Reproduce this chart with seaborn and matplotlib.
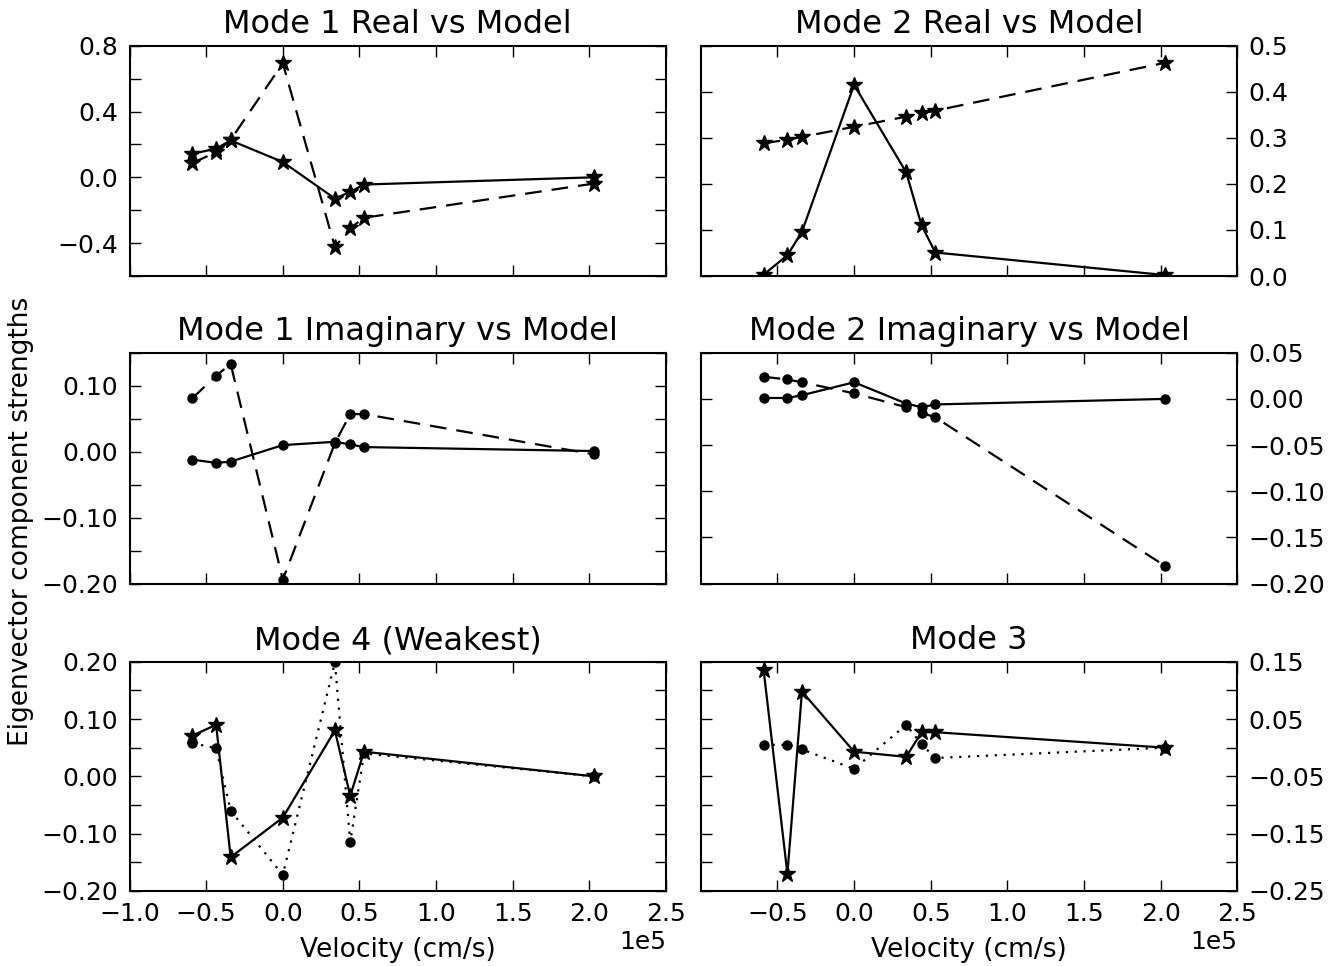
import matplotlib
matplotlib.use("Agg")
import numpy as np
import pandas as pd
import seaborn as sns
import matplotlib.pyplot as plt
from matplotlib.ticker import ScalarFormatter

# ---------------- data ----------------
velocity = [-59000, -43500, -34000, 0, 34000, 44000, 53000, 203000]

m1_real = [0.143, 0.174, 0.224, 0.093, -0.129, -0.089, -0.044, 0.0]
m1_real_model = [0.087, 0.152, 0.228, 0.693, -0.424, -0.309, -0.246, -0.038]

m2_real = [0.003, 0.045, 0.096, 0.415, 0.225, 0.110, 0.051, 0.002]
m2_real_model = [0.288, 0.296, 0.302, 0.324, 0.346, 0.353, 0.359, 0.463]

m1_imag = [-0.012, -0.017, -0.015, 0.010, 0.015, 0.011, 0.007, 0.001]
m1_imag_model = [0.081, 0.115, 0.133, -0.194, 0.013, 0.057, 0.057, -0.004]

m2_imag = [0.001, 0.001, 0.004, 0.018, -0.005, -0.009, -0.006, 0.0]
m2_imag_model = [0.024, 0.021, 0.018, 0.006, -0.009, -0.015, -0.020, -0.181]

m4_a = [0.071, 0.090, -0.141, -0.072, 0.080, -0.034, 0.043, 0.0]
m4_b = [0.058, 0.049, -0.060, -0.172, 0.199, -0.115, 0.040, 0.0]

m3_a = [0.135, -0.220, 0.098, -0.007, -0.016, 0.027, 0.027, 0.0]
m3_b = [0.005, 0.005, -0.003, -0.037, 0.040, 0.006, -0.018, 0.0]

titles = ["Mode 1 Real vs Model", "Mode 2 Real vs Model",
          "Mode 1 Imaginary vs Model", "Mode 2 Imaginary vs Model",
          "Mode 4 (Weakest)", "Mode 3"]

m = "\u2212"
yticks_m1r = [-0.6, -0.4, -0.2, 0.0, 0.2, 0.4, 0.6, 0.8]
ylabels_m1r = ["", m + "0.4", "", "0.0", "", "0.4", "", "0.8"]
yticks_m2r = [0.0, 0.1, 0.2, 0.3, 0.4, 0.5]
ylabels_m2r = ["0.0", "0.1", "0.2", "0.3", "0.4", "0.5"]
yticks_m1i = [-0.20, -0.15, -0.10, -0.05, 0.0, 0.05, 0.10, 0.15]
ylabels_m1i = [m + "0.20", "", m + "0.10", "", "0.00", "", "0.10", ""]
yticks_m2i = [-0.20, -0.15, -0.10, -0.05, 0.0, 0.05]
ylabels_m2i = [m + "0.20", m + "0.15", m + "0.10", m + "0.05", "0.00", "0.05"]
yticks_m4 = [-0.20, -0.15, -0.10, -0.05, 0.0, 0.05, 0.10, 0.15, 0.20]
ylabels_m4 = [m + "0.20", "", m + "0.10", "", "0.00", "", "0.10", "", "0.20"]
yticks_m3 = [-0.25, -0.20, -0.15, -0.10, -0.05, 0.0, 0.05, 0.10, 0.15]
ylabels_m3 = [m + "0.25", "", m + "0.15", "", m + "0.05", "", "0.05", "", "0.15"]

# ---------------- style ----------------
sns.set_style("ticks")
plt.rcParams.update({
    "font.family": ["DejaVu Sans"],
    "axes.linewidth": 1.5,
    "axes.edgecolor": "black",
    "figure.facecolor": "white",
    "axes.facecolor": "white",
    "text.color": "black",
    "axes.labelcolor": "black",
    "axes.titlecolor": "black",
    "xtick.color": "black",
    "ytick.color": "black",
    "xtick.labelcolor": "black",
    "ytick.labelcolor": "black",
})

TICK_FS = 18
LABEL_FS = 19
TITLE_FS = 23

fig = plt.figure(figsize=(13.41, 9.66), dpi=100)
FW, FH = 1341.0, 966.0
col_x = [129.5, 700.8]
col_w = 536.5
rows_px = [(45.7, 276.0), (352.7, 583.7), (661.7, 891.0)]

STAR = dict(marker="*", ms=12)
DOT = dict(marker="o", ms=6.5)
DASH = (0, (7.5, 4.5))
DOTS = (0, (1, 3))

panels = [
    (0, 0, titles[0], [(m1_real, STAR, "-"), (m1_real_model, STAR, DASH)],
     (-0.6, 0.8), yticks_m1r, ylabels_m1r),
    (1, 0, titles[1], [(m2_real, STAR, "-"), (m2_real_model, STAR, DASH)],
     (0.0, 0.5), yticks_m2r, ylabels_m2r),
    (0, 1, titles[2], [(m1_imag, DOT, "-"), (m1_imag_model, DOT, DASH)],
     (-0.2, 0.15), yticks_m1i, ylabels_m1i),
    (1, 1, titles[3], [(m2_imag, DOT, "-"), (m2_imag_model, DOT, DASH)],
     (-0.2, 0.05), yticks_m2i, ylabels_m2i),
    (0, 2, titles[4], [(m4_b, DOT, DOTS), (m4_a, STAR, "-")],
     (-0.2, 0.2), yticks_m4, ylabels_m4),
    (1, 2, titles[5], [(m3_b, DOT, DOTS), (m3_a, STAR, "-")],
     (-0.25, 0.15), yticks_m3, ylabels_m3),
]

for col, row, title, series, ylim, yt, yl in panels:
    top, bot = rows_px[row]
    ax = fig.add_axes([col_x[col] / FW, 1 - bot / FH, col_w / FW, (bot - top) / FH])
    for vals, mk, ls in series:
        df = pd.DataFrame({"v": velocity, "y": vals})
        sns.lineplot(data=df, x="v", y="y", ax=ax, color="black", linestyle=ls,
                     lw=1.6, mec="black", mfc="black", mew=1.0, sort=False,
                     errorbar=None, **mk)
    ax.set_xlim(-1.0e5, 2.5e5)
    ax.set_ylim(*ylim)
    ax.set_yticks(yt)
    ax.set_yticklabels(yl)
    if col == 0:
        xt = np.arange(-1.0, 2.51, 0.5) * 1e5
    else:
        xt = np.arange(-0.5, 2.51, 0.5) * 1e5
    ax.set_xticks(xt)
    fmt = ScalarFormatter(useMathText=False)
    fmt.set_powerlimits((0, 0))
    ax.xaxis.set_major_formatter(fmt)
    ax.set_xlabel("")
    ax.set_ylabel("")
    ax.tick_params(direction="in", length=8, width=1, pad=8, colors="black",
                   labelsize=TICK_FS, top=True, right=True, left=True, bottom=True)
    ax.xaxis.get_offset_text().set_fontsize(TICK_FS)
    ax.xaxis.get_offset_text().set_color("black")
    if col == 1:
        ax.tick_params(axis="y", labelleft=False, labelright=True)
    if row < 2:
        ax.tick_params(axis="x", labelbottom=False)
        ax.xaxis.get_offset_text().set_visible(False)
    else:
        ax.set_xlabel("Velocity (cm/s)", fontsize=LABEL_FS, labelpad=8, color="black")
    ax.set_title(title, fontsize=TITLE_FS, pad=9, color="black")
    for s in ax.spines.values():
        s.set_linewidth(1.5)
        s.set_color("black")

fig.text(0.016, 1 - 521 / FH, "Eigenvector component strengths",
         rotation=90, va="center", ha="center", fontsize=LABEL_FS, color="black")

fig.savefig("out.png", dpi=100, facecolor="white")
